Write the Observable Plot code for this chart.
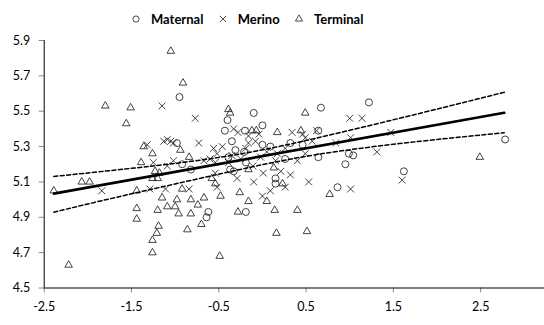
<!DOCTYPE html>
<html><head><meta charset="utf-8">
<script src="https://cdn.jsdelivr.net/npm/d3@7"></script>
<script src="https://cdn.jsdelivr.net/npm/@observablehq/plot@0.6"></script>
<style>
body{margin:0;background:#fff;font-family:Lato,"Liberation Sans",Arial,sans-serif;}
#legend{position:relative;height:30px;width:544px;}
#legend .sym{position:absolute;top:14px;width:10px;height:10px;overflow:visible}
#legend .lab{position:absolute;top:11px;font-weight:bold;font-size:13px;line-height:16px;color:#000;white-space:nowrap}
</style></head><body>
<div id="legend"></div>
<div id="chart"></div>
<script>
const seriesNames = ["Maternal", "Merino", "Terminal"];
const xTicks = [-2.5, -1.5, -0.5, 0.5, 1.5, 2.5];
const yTicks = [4.5, 4.7, 4.9, 5.1, 5.3, 5.5, 5.7, 5.9];

const maternal = [
[-0.95,5.58],[-0.98,5.32],[-0.92,5.20],[-0.82,5.17],[-0.62,4.93],[-0.64,4.90],[-0.40,5.45],[-0.43,5.39],
[-0.35,5.33],[-0.20,5.39],[-0.10,5.49],[0.00,5.42],[0.00,5.31],[-0.31,5.28],[-0.21,5.27],[-0.39,5.24],
[-0.19,5.21],[-0.37,5.17],[-0.33,5.16],[0.46,5.31],[0.26,5.23],[0.15,5.12],[0.15,5.09],[-0.19,4.93],
[0.67,5.52],[1.22,5.55],[0.64,5.39],[0.99,5.26],[1.04,5.25],[0.64,5.24],[0.95,5.20],[1.62,5.16],
[0.86,5.07],[2.78,5.34],[0.09,5.30],[0.32,5.32]
];
const merino = [
[-1.84,5.05],[-1.15,5.53],[-0.77,5.46],[-1.32,5.31],[-1.13,5.33],[-1.09,5.34],[-1.05,5.33],[-1.02,5.32],
[-1.25,5.21],[-1.09,5.19],[-1.02,5.22],[-1.29,5.06],[-1.11,5.06],[-0.84,5.06],[-0.73,5.32],[-0.67,5.22],
[-0.60,5.23],[-0.54,5.21],[-0.56,5.29],[-0.52,5.26],[-0.33,5.40],[-0.28,5.38],[-0.16,5.36],[-0.04,5.37],
[-0.16,5.32],[-0.08,5.33],[0.34,5.38],[0.46,5.37],[0.57,5.33],[-0.35,5.25],[0.05,5.27],[0.17,5.26],
[-0.39,5.21],[-0.25,5.23],[-0.02,5.24],[0.15,5.22],[0.40,5.22],[-0.54,5.15],[-0.29,5.12],[0.01,5.15],
[-0.10,5.10],[0.32,5.14],[0.26,5.07],[0.09,5.05],[0.53,5.10],[-0.52,5.07],[0.00,5.02],[0.49,5.35],
[0.62,5.39],[0.84,5.32],[1.01,5.35],[1.47,5.38],[1.00,5.46],[1.14,5.46],[1.31,5.27],[1.01,5.06],
[1.60,5.11],[0.49,5.26],[-0.46,5.30],[-0.19,5.29],[0.26,5.29],[-0.11,5.19],[0.21,5.16]
];
const terminal = [
[-2.39,5.05],[-2.22,4.63],[-2.07,5.10],[-1.98,5.10],[-1.80,5.53],[-1.51,5.52],[-1.56,5.43],[-1.05,5.84],
[-0.91,5.66],[-1.36,5.30],[-1.26,5.26],[-1.39,5.21],[-1.23,5.16],[-1.18,5.15],[-1.26,5.12],[-1.20,5.12],
[-1.44,5.05],[-1.15,5.01],[-1.44,4.95],[-1.44,4.89],[-1.20,4.94],[-1.09,4.96],[-1.19,4.85],[-1.21,4.81],
[-1.26,4.77],[-1.26,4.70],[-0.94,5.28],[-0.84,5.24],[-0.92,5.06],[-0.98,5.00],[-1.00,4.96],[-0.96,4.92],
[-0.82,5.00],[-0.67,5.01],[-0.74,4.97],[-0.82,4.92],[-0.70,4.86],[-0.86,4.83],[-0.58,5.12],[-0.54,5.09],
[-0.39,5.51],[-0.37,5.49],[-0.12,5.39],[-0.07,5.39],[0.17,5.38],[0.44,5.39],[0.49,5.49],[-0.48,5.02],
[-0.26,5.04],[-0.16,4.99],[0.05,4.99],[-0.28,4.93],[0.14,4.94],[-0.49,4.68],[0.16,4.81],[0.51,4.82],
[0.40,4.94],[0.13,5.18],[-0.16,5.17],[0.23,5.09],[0.77,5.03],[2.49,5.24]
];
const fitLine = [[-2.39,5.034],[2.77,5.491]];
const upperBand = [[-2.39,5.131],[-1.63,5.170],[-0.48,5.240],[0.61,5.347],[1.81,5.489],[2.77,5.607]];
const lowerBand = [[-2.39,4.929],[-1.63,5.018],[-0.48,5.146],[0.61,5.254],[1.81,5.330],[2.77,5.378]];

// legend
const symbolTypes = [d3.symbolCircle, d3.symbolTimes, d3.symbolTriangle];
const symSizes = [30, 28, 22];
const legendSym = [130.7, 217.7, 294];
const legendLab = [151, 237.7, 314];
const leg = d3.select("#legend");
seriesNames.forEach((name, i) => {
  const s = leg.append("svg").attr("class","sym").style("left", legendSym[i]+"px")
    .attr("viewBox","-5 -5 10 10");
  s.append("path").attr("d", d3.symbol(symbolTypes[i], symSizes[i])())
    .attr("fill","none").attr("stroke","#222").attr("stroke-width",0.8);
  leg.append("span").attr("class","lab").style("left", legendLab[i]+"px").text(name);
});

const fmt = d => d.toFixed(1);
const chart = Plot.plot({
  width: 544, height: 295,
  marginLeft: 43.7, marginRight: 0, marginTop: 10, marginBottom: 37.5,
  style: {fontFamily: "Lato, 'Liberation Sans', sans-serif", fontSize: "12.5px", color: "#000", background: "#fff", overflow: "visible"},
  x: {domain: [-2.5, 3.231]},
  y: {domain: [4.5, 5.9]},
  marks: [
    Plot.axisX({ticks: xTicks, tickFormat: fmt, tickSize: 5, tickPadding: 9, label: null, stroke: "#888", fill: "#000"}),
    Plot.axisY({ticks: yTicks, tickFormat: fmt, tickSize: 5, tickPadding: 9, label: null, stroke: "#888", fill: "#000"}),
    Plot.dot(maternal, {x: d => d[0], y: d => d[1], symbol: "circle", r: 3.5, stroke: "#222", fill: "none", strokeWidth: 0.85}),
    Plot.dot(merino, {x: d => d[0], y: d => d[1], symbol: "times", r: 3.2, stroke: "#222", strokeWidth: 0.85}),
    Plot.dot(terminal, {x: d => d[0], y: d => d[1], symbol: "triangle", r: 2.8, stroke: "#222", fill: "none", strokeWidth: 0.85}),
    Plot.line(upperBand, {x: d => d[0], y: d => d[1], curve: "natural", stroke: "#000", strokeWidth: 1.5, strokeDasharray: "4,2.5"}),
    Plot.line(lowerBand, {x: d => d[0], y: d => d[1], curve: "natural", stroke: "#000", strokeWidth: 1.5, strokeDasharray: "4,2.5"}),
    Plot.line(fitLine, {x: d => d[0], y: d => d[1], stroke: "#000", strokeWidth: 2.6}),
    Plot.ruleX([-2.5], {stroke: "#000", strokeWidth: 1}),
    Plot.ruleY([4.5], {stroke: "#000", strokeWidth: 1})
  ]
});
document.getElementById("chart").append(chart);
</script>
</body></html>
